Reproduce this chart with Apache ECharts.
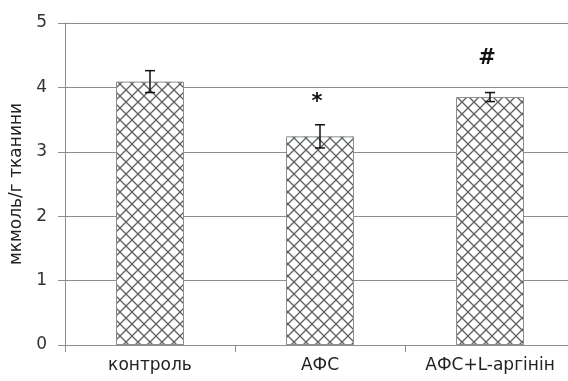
<!DOCTYPE html>
<html>
<head>
<meta charset="utf-8">
<script src="https://cdn.jsdelivr.net/npm/echarts@6/dist/echarts.min.js"></script>
<style>
  html, body { margin: 0; padding: 0; background: #fff; }
  #chart { width: 568px; height: 381px; }
</style>
</head>
<body>
<div id="chart"></div>
<script>
// Groups and measured means with their errors
var categories = ['контроль', 'АФС', 'АФС+L-аргінін'];
var means = [4.09, 3.24, 3.85];
var errors = [0.17, 0.18, 0.07];
// Significance markers and the value level where each is written
var marks = ['', '*', '#'];
var markLevels = [0, 3.77, 4.45];
var yTicks = [0, 1, 2, 3, 4, 5];

// Cross-hatch fill for the bars
function makeHatch() {
  var c = document.createElement('canvas');
  var s = 12;
  c.width = s; c.height = s;
  var g = c.getContext('2d');
  g.fillStyle = '#ffffff';
  g.fillRect(0, 0, s, s);
  g.strokeStyle = '#5c6060';
  g.lineWidth = 1.3;
  g.beginPath();
  g.moveTo(-1, -1); g.lineTo(s + 1, s + 1);
  g.moveTo(s + 1, -1); g.lineTo(-1, s + 1);
  g.stroke();
  return c;
}

var chart = echarts.init(document.getElementById('chart'), null, { renderer: 'canvas' });
var font = '"DejaVu Sans", Verdana, sans-serif';
var axisGray = '#8a8e8e';

chart.setOption({
  animation: false,
  grid: { left: 65, top: 23, bottom: 36, width: 510, containLabel: false, outerBoundsMode: 'none' },
  xAxis: {
    type: 'category',
    data: categories,
    axisLine: { show: true, lineStyle: { color: axisGray, width: 1 } },
    axisTick: { show: true, length: 7, alignWithLabel: false, lineStyle: { color: axisGray } },
    axisLabel: { color: '#222', fontFamily: font, fontSize: 17, margin: 12 }
  },
  yAxis: {
    type: 'value',
    min: yTicks[0],
    max: yTicks[yTicks.length - 1],
    interval: 1,
    name: 'мкмоль/г тканини',
    nameLocation: 'middle',
    nameRotate: 90,
    nameGap: 39,
    nameTextStyle: { color: '#222', fontFamily: font, fontSize: 17 },
    axisLine: { show: true, lineStyle: { color: axisGray, width: 1 } },
    axisTick: { show: true, length: 7, lineStyle: { color: axisGray } },
    axisLabel: { color: '#333', fontFamily: font, fontSize: 17, margin: 18 },
    splitLine: { show: true, lineStyle: { color: axisGray, width: 1 } }
  },
  series: [
    {
      type: 'bar',
      data: means,
      barWidth: '40%',
      itemStyle: {
        color: { image: makeHatch(), repeat: 'repeat' },
        borderColor: axisGray,
        borderWidth: 1
      },
      z: 2
    },
    {
      type: 'custom',
      data: means.map(function (m, i) { return [i, m + errors[i], m - errors[i]]; }),
      renderItem: function (params, api) {
        var top = api.coord([api.value(0), api.value(1)]);
        var bot = api.coord([api.value(0), api.value(2)]);
        var hw = 5;
        var st = { stroke: '#111', lineWidth: 1.5 };
        return {
          type: 'group',
          children: [
            { type: 'line', shape: { x1: top[0], y1: top[1], x2: bot[0], y2: bot[1] }, style: st },
            { type: 'line', shape: { x1: top[0] - hw, y1: top[1], x2: top[0] + hw, y2: top[1] }, style: st },
            { type: 'line', shape: { x1: bot[0] - hw, y1: bot[1], x2: bot[0] + hw, y2: bot[1] }, style: st }
          ]
        };
      },
      z: 5
    },
    {
      type: 'custom',
      data: marks.map(function (t, i) { return [i, markLevels[i]]; }),
      renderItem: function (params, api) {
        var i = params.dataIndex;
        var p = api.coord([api.value(0), api.value(1)]);
        return {
          type: 'text',
          style: {
            x: p[0] - 3, y: p[1],
            text: marks[i],
            fill: '#111',
            font: 'bold 21px ' + font,
            textAlign: 'center',
            textVerticalAlign: 'middle'
          }
        };
      },
      z: 6
    }
  ]
});
</script>
</body>
</html>
